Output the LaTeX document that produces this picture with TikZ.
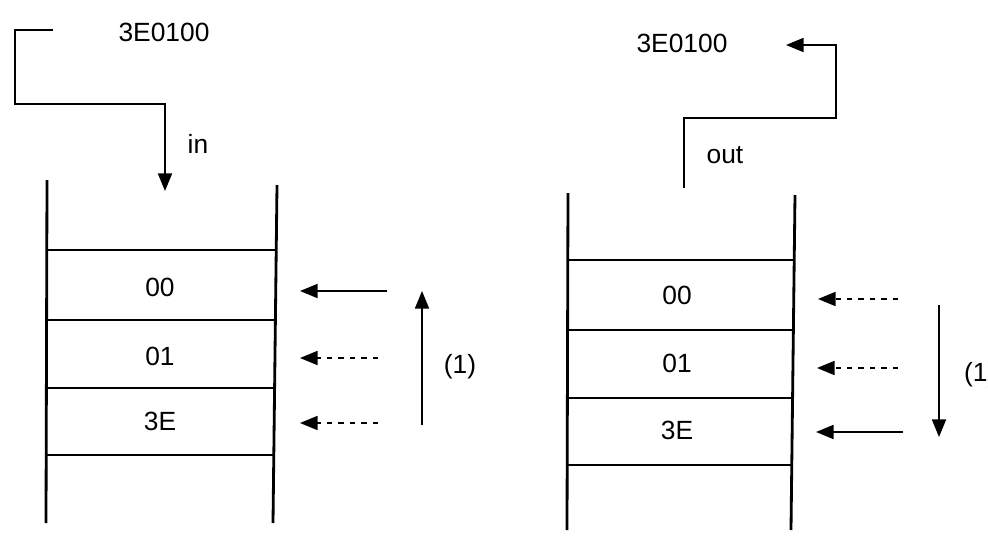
\documentclass[tikz,border=0pt]{standalone}
\usepackage{fontspec}
\setmainfont{Liberation Sans}
\usetikzlibrary{arrows.meta}

\begin{document}
\begin{tikzpicture}[x=0.2mm,y=-0.2mm,font=\fontsize{15}{18}\selectfont,
    wall/.style={line width=1.6pt},
    link/.style={line width=0.9pt},
    push/.style={link,-{Triangle[length=10pt,width=8pt]}},
    peek/.style={push,dash pattern=on 3pt off 3.5pt}]
    \useasboundingbox (0,0) rectangle (988,536);

    % push side
    \draw[wall](47,180)--(46,523);
    \draw[wall](277,185)--(273,523);
    \foreach \y in {250,320,388,455}
        \draw[wall](46,\y)--(275,\y);
    \node(pushtop) at (160,287){00};
    \node(pushmid) at (160,356){01};
    \node(pushbot) at (160,421){3E};

    \node(inword) at (164,32){3E0100};
    \node(inlabel) at (198,144){in};
    \coordinate(intail) at (53,30);
    \coordinate(intip) at (165,191);
    \draw[push](intail)-|(15,104)-|(intip);

    \coordinate(pa) at (387,291);  \coordinate(pa') at (300,291);
    \coordinate(pb) at (378,358);  \coordinate(pb') at (300,358);
    \coordinate(pc) at (378,423);  \coordinate(pc') at (300,423);
    \draw[push](pa)--(pa');
    \draw[peek](pb)--(pb');
    \draw[peek](pc)--(pc');
    \coordinate(pup) at (422,425);  \coordinate(pup') at (422,291);
    \draw[push](pup)--(pup');
    \node(pushorder) at (460,367){(1)};

    % pop side
    \draw[wall](568,193)--(567,530);
    \draw[wall](795,195)--(791,530);
    \foreach \y in {260,330,398,465}
        \draw[wall](567,\y)--(793,\y);
    \node(poptop) at (677,295){00};
    \node(popmid) at (677,363){01};
    \node(popbot) at (677,430){3E};

    \node(outword) at (682,43){3E0100};
    \node(outlabel) at (725,155){out};
    \coordinate(outtail) at (684,188);
    \coordinate(outtip) at (786,45);
    \draw[push](outtail)|-(836,118)|-(outtip);

    \coordinate(qa) at (898,299);  \coordinate(qa') at (818,299);
    \coordinate(qb) at (898,368);  \coordinate(qb') at (817,368);
    \coordinate(qc) at (903,432);  \coordinate(qc') at (816,432);
    \draw[peek](qa)--(qa');
    \draw[peek](qb)--(qb');
    \draw[push](qc)--(qc');
    \coordinate(qdn) at (939,305);  \coordinate(qdn') at (939,437);
    \draw[push](qdn)--(qdn');
    \node[anchor=west](poporder) at (958,375){(1)};
\end{tikzpicture}
\end{document}
